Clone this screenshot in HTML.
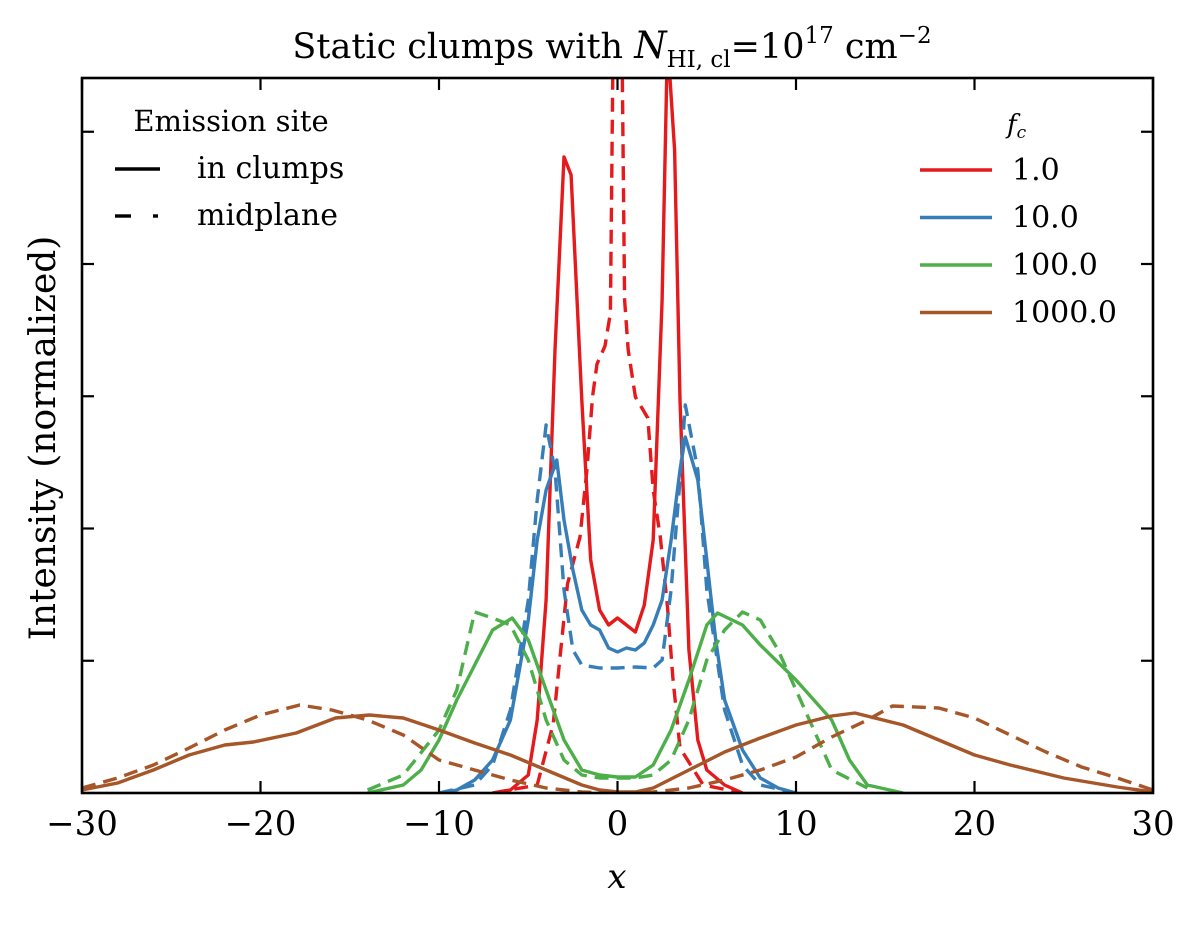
<!DOCTYPE html>
<html><head><meta charset="utf-8"><style>
html,body{margin:0;padding:0;background:#fff;}
svg text{font-family:"DejaVu Serif","Liberation Serif",serif;fill:#000;}
</style></head><body>
<svg id="chart" width="1200" height="920" viewBox="0 0 1200 920" xmlns="http://www.w3.org/2000/svg">
<g id="series"></g>
<rect x="82" y="78" width="1071" height="715" fill="none" stroke="#000" stroke-width="2.6"/>
<g id="ticks"></g>
<text x="612" y="58" font-size="35" text-anchor="middle">Static clumps with <tspan font-style="italic" font-size="37">N</tspan><tspan font-size="23" dy="9">HI, cl</tspan><tspan dy="-9">=10</tspan><tspan font-size="23" dy="-15">17</tspan><tspan dy="15"> cm</tspan><tspan font-size="23" dy="-15">−2</tspan></text>
<text x="617" y="888" font-size="34" font-style="italic" text-anchor="middle">x</text>
<text transform="translate(55,438) rotate(-90)" font-size="36" text-anchor="middle">Intensity (normalized)</text>
<g>
<text x="231" y="131" font-size="29" text-anchor="middle">Emission site</text>
<line x1="115" y1="169" x2="160" y2="169" stroke="#000" stroke-width="3.4"/>
<text x="197" y="178" font-size="30">in clumps</text>
<line x1="115" y1="216" x2="131" y2="216" stroke="#000" stroke-width="3.4"/>
<line x1="153" y1="216" x2="158" y2="216" stroke="#000" stroke-width="3.4"/>
<text x="197" y="225" font-size="30">midplane</text>
</g>
<g id="legend2">
<text x="1007" y="133" font-size="26" font-style="italic">f<tspan font-size="17" dy="5">c</tspan></text>
</g>
<script>
const xTicks=[-30,-20,-10,0,10,20,30];
const xTickLabels=["−30","−20","−10","0","10","20","30"];
const yTickStep=1.3225;
const fcLabels=["1.0","10.0","100.0","1000.0"];
const redSolidX=[-7,-6,-5,-4.5,-4,-3.5,-3,-2.6,-2,-1.5,-1,-0.5,0,0.5,1,1.5,2,2.5,2.8,3.2,3.5,4,4.5,5,6,7];
const redSolidY=[0,0.03,0.18,0.73,1.93,4.43,6.36,6.18,3.93,2.33,1.83,1.68,1.75,1.68,1.61,1.88,2.53,4.93,7.53,6.43,3.93,1.43,0.53,0.23,0.08,0];
const redDashX=[-7,-4.5,-3.6,-2.8,-2.1,-1.7,-1.4,-1.15,-0.7,-0.4,0,0.4,0.6,1,1.7,2,2.4,2.8,3.1,3.5,4.8,7];
const redDashY=[0,0.08,0.69,2.09,2.56,3.26,3.96,4.29,4.47,4.8,11.93,4.93,4.43,3.96,3.75,3.03,2.56,1.86,1.16,0.45,0.08,0];
const blueSolidX=[-10,-9,-8,-7,-6,-5,-4.5,-4,-3.4,-3,-2.5,-2,-1.5,-1,-0.5,0,0.5,1,1.5,2,2.5,3,3.5,3.8,4.5,5,5.5,6,7,8,9,10];
const blueSolidY=[0,0.03,0.13,0.33,0.73,1.73,2.53,3.03,3.33,2.73,2.23,1.83,1.68,1.63,1.45,1.41,1.45,1.43,1.5,1.68,1.93,2.53,3.23,3.56,3.13,2.33,1.53,0.93,0.43,0.15,0.05,0];
const blueDashX=[-10,-8,-7,-6,-5,-4.5,-4,-3.5,-3,-2.5,-2,-1,0,1,2,2.5,3,3.5,3.8,4.5,5,6,7,8,10];
const blueDashY=[0,0.08,0.28,0.83,1.93,2.93,3.68,3.23,2.03,1.43,1.28,1.25,1.25,1.26,1.25,1.33,2.03,3.13,3.88,3.23,2.03,0.83,0.28,0.08,0];
const greenSolidX=[-14,-12,-11,-10,-9,-8,-7,-5.9,-5,-4,-3,-2,-1,0,1,2,3,4,5,5.6,7,8,10,12,13,14,16];
const greenSolidY=[0,0.08,0.23,0.53,0.93,1.28,1.63,1.75,1.53,1.03,0.53,0.23,0.18,0.16,0.16,0.28,0.63,1.13,1.68,1.8,1.68,1.48,1.13,0.73,0.33,0.08,0];
const greenDashX=[-14,-12,-10,-9,-8,-7,-6,-5,-4,-3,-2,-1,0,1,2,3,4,5,6,7,8,9,10,11,12,14];
const greenDashY=[0.03,0.18,0.63,1.03,1.81,1.75,1.68,1.33,0.73,0.33,0.18,0.15,0.15,0.15,0.18,0.33,0.73,1.33,1.63,1.81,1.73,1.43,1.03,0.63,0.23,0.05];
const brownSolidX=[-30,-28,-26,-24,-22,-20.4,-18,-15.8,-13.9,-12,-10,-8,-6,-4,-2,-1,0,1,2,4,6,8,10,12,13.3,16,18,20,22,25,28,30];
const brownSolidY=[0.03,0.1,0.23,0.38,0.48,0.51,0.6,0.75,0.78,0.75,0.63,0.5,0.38,0.23,0.08,0.03,0.01,0.01,0.05,0.23,0.41,0.55,0.68,0.77,0.8,0.68,0.53,0.38,0.28,0.15,0.06,0.01];
const brownDashX=[-30,-28,-26,-24,-22,-20,-17.8,-16,-14,-12,-10,-8,-6,-4,-2,0,2,4,6,8,10,12,14,15.4,18,20,22,24,26,28,30];
const brownDashY=[0.05,0.15,0.28,0.45,0.63,0.78,0.88,0.83,0.73,0.58,0.33,0.23,0.13,0.05,0.01,0,0.01,0.05,0.13,0.23,0.36,0.56,0.73,0.87,0.85,0.75,0.58,0.41,0.26,0.15,0.03];

const NS='http://www.w3.org/2000/svg';
const L=82,R=1153,T=78,B=793;
function sx(x){return L+(x+30)/60*(R-L);}
function sy(v){return B-v/7.15*(B-T);}
const colors=['#e41a1c','#377eb8','#4daf4a','#a65628'];
const series=[
 ['red-solid',redSolidX,redSolidY,0,false],['red-dashed',redDashX,redDashY,0,true],
 ['blue-solid',blueSolidX,blueSolidY,1,false],['blue-dashed',blueDashX,blueDashY,1,true],
 ['green-solid',greenSolidX,greenSolidY,2,false],['green-dashed',greenDashX,greenDashY,2,true],
 ['brown-solid',brownSolidX,brownSolidY,3,false],['brown-dashed',brownDashX,brownDashY,3,true]];
const sg=document.getElementById('series');
const clip=document.createElementNS(NS,'clipPath');clip.setAttribute('id','pc');
const cr=document.createElementNS(NS,'rect');cr.setAttribute('x',L);cr.setAttribute('y',T);cr.setAttribute('width',R-L);cr.setAttribute('height',B-T);
clip.appendChild(cr);document.getElementById('chart').appendChild(clip);
sg.setAttribute('clip-path','url(#pc)');
series.forEach(s=>{
 const p=document.createElementNS(NS,'polyline');
 p.setAttribute('points',s[1].map((x,i)=>sx(x).toFixed(1)+','+sy(s[2][i]).toFixed(1)).join(' '));
 p.setAttribute('fill','none');p.setAttribute('stroke',colors[s[3]]);p.setAttribute('stroke-width','3.4');
 p.setAttribute('stroke-linejoin','round');
 if(s[4])p.setAttribute('stroke-dasharray','14,8');
 
 
 sg.appendChild(p);
});
const tg=document.getElementById('ticks');
function ln(x1,y1,x2,y2,name){const l=document.createElementNS(NS,'line');l.setAttribute('x1',x1);l.setAttribute('y1',y1);l.setAttribute('x2',x2);l.setAttribute('y2',y2);l.setAttribute('stroke','#000');l.setAttribute('stroke-width','2.2');
 
 
 tg.appendChild(l);}
xTicks.forEach((t,i)=>{const x=sx(t);ln(x,B,x,B-12,'x-tick');ln(x,T,x,T+12,'x-tick-top');
 const tx=document.createElementNS(NS,'text');tx.setAttribute('x',x);tx.setAttribute('y',835);tx.setAttribute('font-size','34');tx.setAttribute('text-anchor','middle');tx.textContent=xTickLabels[i];
 
 
 tg.appendChild(tx);});
for(let v=yTickStep;v<7.15;v+=yTickStep){const y=sy(v);ln(L,y,L+12,y,'y-tick');ln(R,y,R-12,y,'y-tick-right');}
const lg=document.getElementById('legend2');
fcLabels.forEach((lab,i)=>{const y=170+i*47.5;
 const l=document.createElementNS(NS,'line');l.setAttribute('x1',920);l.setAttribute('x2',992);l.setAttribute('y1',y);l.setAttribute('y2',y);l.setAttribute('stroke',colors[i]);l.setAttribute('stroke-width','3.4');
 
 
 lg.appendChild(l);
 const t=document.createElementNS(NS,'text');t.setAttribute('x',1012);t.setAttribute('y',y+10);t.setAttribute('font-size','30');t.textContent=lab;
 
 
 lg.appendChild(t);});
</script>
</svg>
</body></html>
